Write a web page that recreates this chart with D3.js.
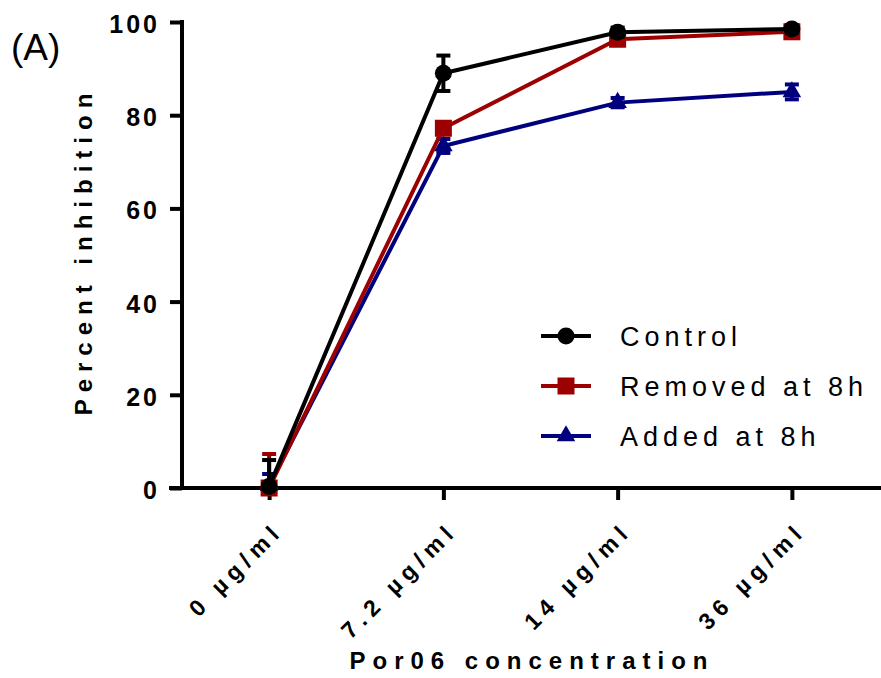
<!DOCTYPE html>
<html>
<head>
<meta charset="utf-8">
<script src="https://cdn.jsdelivr.net/npm/d3@7"></script>
<style>
  body { margin: 0; background: #fff; }
  svg { display: block; }
  text { font-family: "Liberation Sans", Arial, sans-serif; }
</style>
</head>
<body>
<svg id="chart" width="881" height="678"></svg>
<script>
// ---- data ----
const categories = [ "0 µg/ml", "7.2 µg/ml", "14 µg/ml", "36 µg/ml" ];
const yTicks = [ 0, 20, 40, 60, 80, 100 ];

const controlMean = [ 0.3, 89.0, 97.8, 98.5 ];
const controlErr  = [ 5.7, 3.8, 1.0, 0.8 ];
const removedMean = [ 0.0, 77.2, 96.3, 97.9 ];
const removedErr  = [ 7.3, 1.2, 1.0, 1.0 ];
const addedMean   = [ 0.5, 73.4, 82.7, 85.0 ];
const addedErr    = [ 2.5, 1.5, 1.0, 1.6 ];

const seriesNames = [ "Control", "Removed at 8h", "Added at 8h" ];

// ================================
const svg = d3.select( "#chart" );
const x0 = 182, yTop = 22, yBottom = 488;

const xScale = d3.scalePoint()
  .domain( categories )
  .range( [ x0, 879 ] )
  .padding( 0.5 );

const yScale = d3.scaleLinear()
  .domain( [ 0, 100 ] )
  .range( [ yBottom, yTop ] );

const series = [ // drawn bottom -> top
  { name: seriesNames[2], mean: addedMean, err: addedErr, color: "#00007f", shape: "triangle" },
  { name: seriesNames[1], mean: removedMean, err: removedErr, color: "#9c0000", shape: "square" },
  { name: seriesNames[0], mean: controlMean, err: controlErr, color: "#000000", shape: "circle" },
];

const symbolFor = shape => {
  if ( shape == "circle" ) return d3.symbol( d3.symbolCircle, Math.PI * 8.5 * 8.5 );
  if ( shape == "square" ) return d3.symbol( d3.symbolSquare, 17 * 17 );
  return d3.symbol( d3.symbolTriangle, 150 );
};

// ---- axes ----
const leftAxis = d3.axisLeft( yScale )
  .tickValues( yTicks )
  .tickSize( 12 )
  .tickFormat( d3.format( "d" ) );

const bottomAxis = d3.axisBottom( xScale )
  .tickSize( 12 );

const yAxisG = svg.append( "g" )
  .attr( "transform", `translate(${x0},0)` )
  .call( leftAxis );
yAxisG.select( ".domain" ).remove();
yAxisG.append( "line" )
  .attr( "x1", 0 ).attr( "x2", 0 )
  .attr( "y1", yTop - 2 ).attr( "y2", yBottom + 2 )
  .attr( "stroke", "#000" ).attr( "stroke-width", 4 );
yAxisG.selectAll( ".tick line" ).attr( "stroke-width", 4 );
yAxisG.selectAll( ".tick text" )
  .attr( "x", -22 )
  .attr( "dy", "0.42em" )
  .attr( "font-size", 25 )
  .attr( "font-weight", "bold" )
  .attr( "letter-spacing", 3 )
  .attr( "fill", "#000" );

const xAxisG = svg.append( "g" )
  .attr( "transform", `translate(0,${yBottom})` )
  .call( bottomAxis );
xAxisG.select( ".domain" ).remove();
xAxisG.append( "line" )
  .attr( "x1", x0 - 13 ).attr( "x2", 881 )
  .attr( "y1", 0 ).attr( "y2", 0 )
  .attr( "stroke", "#000" ).attr( "stroke-width", 4 );
xAxisG.selectAll( ".tick line" ).attr( "stroke-width", 4 );
xAxisG.selectAll( ".tick text" )
  .attr( "y", 0 )
  .attr( "dy", 0 )
  .attr( "text-anchor", "end" )
  .attr( "transform", "translate(15,44) rotate(-45)" )
  .attr( "font-size", 23 )
  .attr( "font-weight", "bold" )
  .attr( "letter-spacing", 6 )
  .attr( "fill", "#000" );

// axis titles
svg.append( "text" )
  .attr( "transform", "translate(92,251) rotate(-90)" )
  .attr( "text-anchor", "middle" )
  .attr( "font-size", 24 )
  .attr( "font-weight", "bold" )
  .attr( "letter-spacing", 7 )
  .text( "Percent inhibition" );

svg.append( "text" )
  .attr( "x", 532 )
  .attr( "y", 669 )
  .attr( "text-anchor", "middle" )
  .attr( "font-size", 24 )
  .attr( "font-weight", "bold" )
  .attr( "letter-spacing", 7 )
  .text( "Por06 concentration" );

svg.append( "text" )
  .attr( "x", 11 )
  .attr( "y", 60 )
  .attr( "font-size", 37 )
  .text( "(A)" );

// ---- series ----
const line = d3.line()
  .x( ( d, i ) => xScale( categories[ i ] ) )
  .y( d => yScale( d ) );

const capHalf = 7;
const lo = d => Math.max( 0, d.m - d.e ); // bars are cut at the x axis

series.forEach( s => {
  const g = svg.append( "g" );

  // error bars
  const eb = g.selectAll( ".err" )
    .data( s.mean.map( ( m, i ) => ( { cat: categories[ i ], m: m, e: s.err[ i ] } ) ) )
    .enter()
    .append( "g" )
    .attr( "stroke", s.color )
    .attr( "stroke-width", 4 );
  eb.append( "line" )
    .attr( "x1", d => xScale( d.cat ) ).attr( "x2", d => xScale( d.cat ) )
    .attr( "y1", d => yScale( lo( d ) ) ).attr( "y2", d => yScale( d.m + d.e ) );
  eb.append( "line" )
    .attr( "x1", d => xScale( d.cat ) - capHalf ).attr( "x2", d => xScale( d.cat ) + capHalf )
    .attr( "y1", d => yScale( d.m + d.e ) ).attr( "y2", d => yScale( d.m + d.e ) );
  eb.filter( d => d.m - d.e > 0 )
    .append( "line" )
    .attr( "x1", d => xScale( d.cat ) - capHalf ).attr( "x2", d => xScale( d.cat ) + capHalf )
    .attr( "y1", d => yScale( lo( d ) ) ).attr( "y2", d => yScale( lo( d ) ) );

  g.append( "path" )
    .datum( s.mean )
    .attr( "d", line )
    .attr( "fill", "none" )
    .attr( "stroke", s.color )
    .attr( "stroke-width", 4 );

  g.selectAll( ".pt" )
    .data( s.mean )
    .enter()
    .append( "path" )
    .attr( "d", symbolFor( s.shape ) )
    .attr( "transform", ( d, i ) => `translate(${xScale( categories[ i ] )},${yScale( d )})` )
    .attr( "fill", s.color );
} );

// ---- legend ----
const legendRows = [ series[2], series[1], series[0] ];
const legend = svg.append( "g" )
  .attr( "transform", "translate(541,336)" );

legendRows.forEach( ( s, i ) => {
  const row = legend.append( "g" ).attr( "transform", `translate(0,${i * 50})` );
  row.append( "line" )
    .attr( "x1", 0 ).attr( "x2", 50 )
    .attr( "stroke", s.color ).attr( "stroke-width", 4 );
  row.append( "path" )
    .attr( "d", symbolFor( s.shape ) )
    .attr( "transform", "translate(25,0)" )
    .attr( "fill", s.color );
  row.append( "text" )
    .attr( "x", 79 )
    .attr( "y", 10 )
    .attr( "font-size", 27 )
    .attr( "letter-spacing", 5 )
    .text( s.name );
} );
</script>
</body>
</html>
